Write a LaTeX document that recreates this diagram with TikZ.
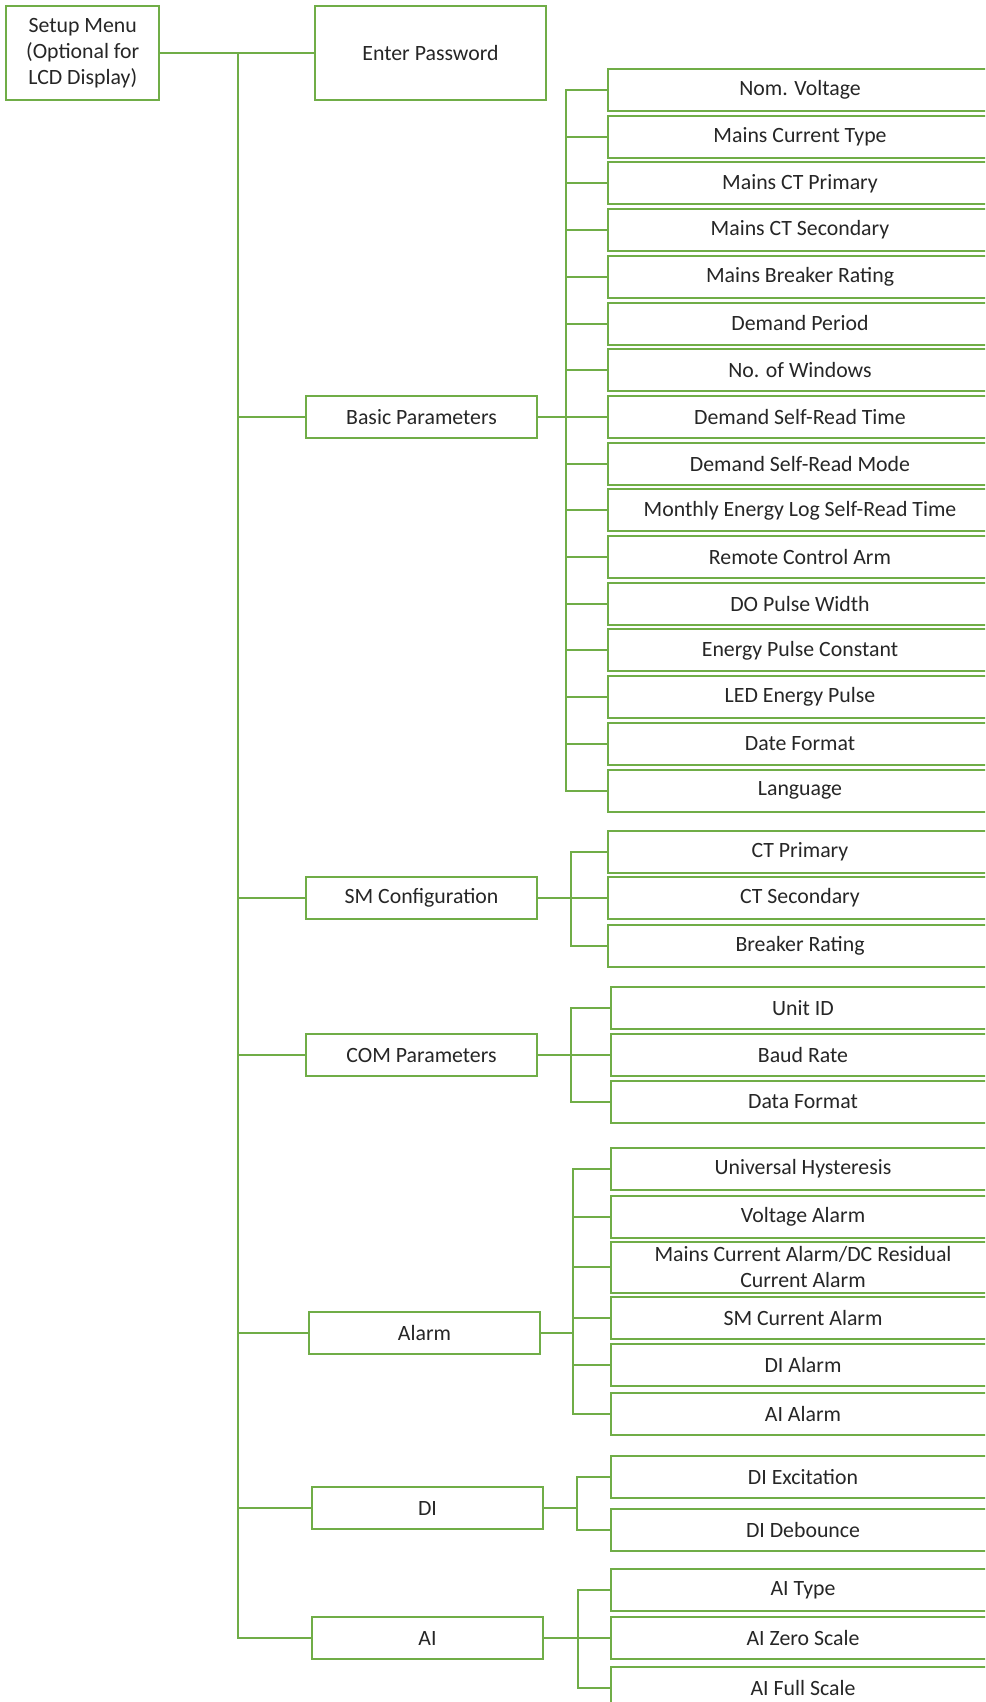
\documentclass[tikz,border=0pt]{standalone}
\usepackage{fontspec}
\setmainfont{Carlito}
\usetikzlibrary{positioning}
\definecolor{menugreen}{RGB}{112,173,71}
\definecolor{menutext}{RGB}{38,38,38}
\tikzset{
	box/.style={
			draw=menugreen, line width=1pt, fill=white, inner sep=0.5pt,
			align=center, text=menutext, font=\fontsize{10.9}{13}\selectfont
		},
	topbox/.style={box, minimum width=115.5pt, minimum height=21pt, anchor=west},
	leafbox/.style={box, minimum width=192pt, minimum height=21pt, anchor=west},
	link/.style={draw=menugreen, line width=1pt}
}

\begin{document}
\begin{tikzpicture}[x=0.5pt, y=-0.5pt]
		\useasboundingbox (0,0) rectangle (985,1702);
		\clip (0,0) rectangle (985,1702);

		% Root and password
		\node[box, minimum width=76.5pt, minimum height=47pt] (setup) at (82.75,53) {Setup Menu\\(Optional for\\LCD Display)};
		\node[topbox, minimum height=47pt] (pwd) at (314,53) {Enter Password};
		\coordinate (trunk) at (238,0);
		\draw[link] (setup.east) -- (pwd.west);

		% First level menus
		\node[topbox] (basic) at (305,417) {Basic Parameters};
		\node[topbox] (sm) at (305,898) {SM Configuration};
		\node[topbox] (com) at (305,1055) {COM Parameters};
		\node[topbox] (alarm) at (308,1333) {Alarm};
		\node[topbox] (di) at (311,1508) {DI};
		\node[topbox] (ai) at (311,1638) {AI};
		\foreach \m in {basic,sm,com,alarm,di,ai} {
				\draw[link] (setup.east -| trunk) |- (\m.west);
			}

		% Basic parameters
		\coordinate (bpbar) at (566,0);
		\foreach \lbl [count=\i] in {Nom. Voltage, Mains Current Type, Mains CT Primary,
				Mains CT Secondary, Mains Breaker Rating, Demand Period, No. of Windows,
				Demand Self-Read Time, Demand Self-Read Mode, Monthly Energy Log Self-Read Time,
				Remote Control Arm, DO Pulse Width, Energy Pulse Constant, LED Energy Pulse,
				Date Format, Language} {
				\pgfmathsetmacro\yc{90+46.7*(\i-1)}
				\node[leafbox] (bp\i) at (607,\yc) {\lbl};
				\draw[link] (basic.east -| bpbar) |- (bp\i.west);
			}
		\draw[link] (basic.east) -- (basic.east -| bpbar);

		% SM configuration
		\coordinate (smbar) at (571,0);
		\foreach \yc/\lbl [count=\i] in {852/CT Primary, 898/CT Secondary, 946/Breaker Rating} {
				\node[leafbox] (sm\i) at (607,\yc) {\lbl};
				\draw[link] (sm.east -| smbar) |- (sm\i.west);
			}
		\draw[link] (sm.east) -- (sm.east -| smbar);

		% COM parameters
		\coordinate (combar) at (571,0);
		\foreach \yc/\lbl [count=\i] in {1008/Unit ID, 1055/Baud Rate, 1102/Data Format} {
				\node[leafbox] (com\i) at (610,\yc) {\lbl};
				\draw[link] (com.east -| combar) |- (com\i.west);
			}
		\draw[link] (com.east) -- (com.east -| combar);

		% Alarm
		\coordinate (albar) at (573,0);
		\foreach \yc/\hh/\lbl [count=\i] in {1169/21/Universal Hysteresis, 1217/21/Voltage Alarm,
				1267/25.5/{Mains Current Alarm/DC Residual\\Current Alarm}, 1318/21/SM Current Alarm,
				1365/21/DI Alarm, 1414/21/AI Alarm} {
				\node[leafbox, minimum height=\hh pt] (al\i) at (610,\yc) {\lbl};
				\draw[link] (alarm.east -| albar) |- (al\i.west);
			}
		\draw[link] (alarm.east) -- (alarm.east -| albar);

		% DI
		\coordinate (dibar) at (577,0);
		\foreach \yc/\lbl [count=\i] in {1477/DI Excitation, 1530/DI Debounce} {
				\node[leafbox] (di\i) at (610,\yc) {\lbl};
				\draw[link] (di.east -| dibar) |- (di\i.west);
			}
		\draw[link] (di.east) -- (di.east -| dibar);

		% AI
		\coordinate (aibar) at (578,0);
		\foreach \yc/\lbl [count=\i] in {1590/AI Type, 1638/AI Zero Scale, 1688/AI Full Scale} {
				\node[leafbox] (ai\i) at (610,\yc) {\lbl};
				\draw[link] (ai.east -| aibar) |- (ai\i.west);
			}
		\draw[link] (ai.east) -- (ai.east -| aibar);
	\end{tikzpicture}
\end{document}
